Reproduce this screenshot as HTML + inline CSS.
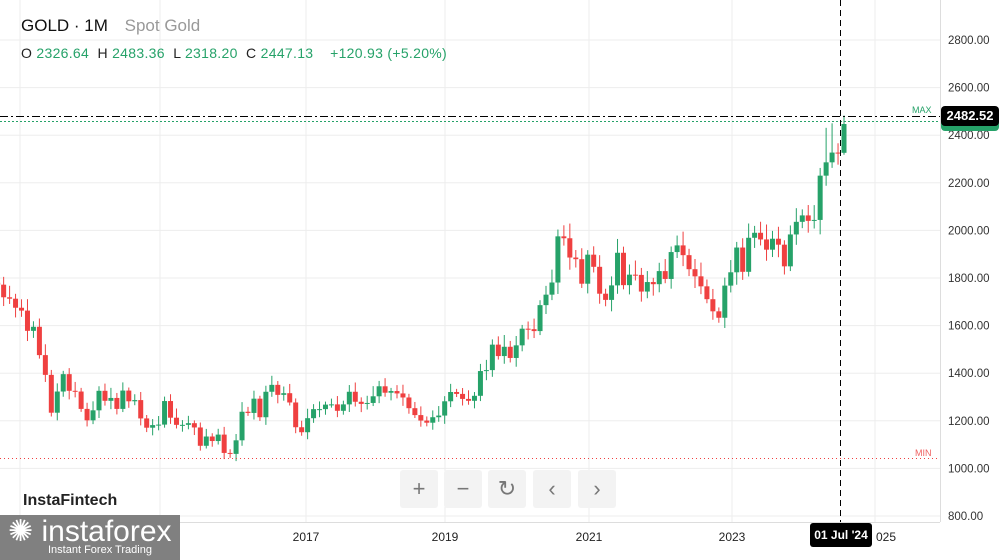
<!DOCTYPE html>
<html><head><meta charset="utf-8"><style>
body{margin:0;width:1006px;height:560px;overflow:hidden;background:#fff;font-family:"Liberation Sans",sans-serif;position:relative}
.t{position:absolute;white-space:nowrap}
.btn{position:absolute;top:470px;width:38px;height:38px;background:#f3f3f3;border-radius:3px;color:#777;font-size:22px;text-align:center;line-height:38px}
</style></head><body>
<svg id="s" width="1006" height="560" style="position:absolute;left:0;top:0"></svg>
<div class="t" style="left:21px;top:16px;font-size:17px;color:#111">GOLD · 1M <span style="color:#999;margin-left:12px">Spot Gold</span></div>
<div class="t" style="left:21px;top:45px;font-size:14px;color:#26a269;letter-spacing:0.3px"><span style="color:#222">O</span> 2326.64 &nbsp;<span style="color:#222">H</span> 2483.36 &nbsp;<span style="color:#222">L</span> 2318.20 &nbsp;<span style="color:#222">C</span> 2447.13 &nbsp;&nbsp; +120.93 (+5.20%)</div>
<div class="btn" style="left:400px">+</div><div class="btn" style="left:444px">−</div><div class="btn" style="left:488px">↻</div><div class="btn" style="left:533px">‹</div><div class="btn" style="left:578px">›</div>
<div class="t" style="left:23px;top:492px;font-size:16px;font-weight:bold;color:#222">InstaFintech</div>
<div style="position:absolute;left:0;top:515px;width:180px;height:45px;background:#808080"></div>
<div class="t" style="left:8px;top:514px;font-size:30px;color:#fff">✺ instaforex</div>
<div class="t" style="left:48px;top:544px;font-size:11px;color:#fff">Instant Forex Trading</div>
<div style="position:absolute;left:941px;top:107px;width:58px;height:24px;background:#26a269;border-radius:4px"></div>
<div class="t" style="left:941px;top:106px;width:58px;height:20px;background:#000;color:#fff;border-radius:4px;font-size:13px;font-weight:bold;text-align:center;line-height:20px">2482.52</div>
<div class="t" style="left:810px;top:523px;width:62px;height:24px;background:#000;color:#fff;border-radius:3px;font-size:12px;font-weight:bold;text-align:center;line-height:24px">01 Jul '24</div>
<script>
var c=[1772,1719,1713,1675,1663,1578,1595,1476,1393,1234,1323,1396,1326,1323,1250,1202,1244,1326,1284,1296,1250,1327,1282,1287,1210,1171,1182,1184,1283,1213,1183,1183,1190,1172,1095,1134,1115,1142,1065,1061,1118,1238,1233,1293,1215,1322,1351,1309,1316,1277,1173,1152,1211,1249,1249,1268,1269,1242,1269,1322,1280,1271,1275,1303,1345,1318,1325,1315,1298,1253,1224,1201,1192,1215,1222,1282,1321,1313,1292,1284,1305,1409,1413,1520,1472,1511,1464,1517,1587,1585,1577,1686,1730,1781,1975,1967,1886,1879,1776,1898,1847,1734,1708,1769,1906,1770,1814,1813,1743,1783,1774,1829,1796,1909,1937,1896,1837,1807,1765,1711,1660,1633,1768,1824,1928,1826,1969,1990,1962,1919,1965,1940,1849,1983,2036,2063,2040,2044,2230,2286,2327,2326,2447];
function Y(p){return 516-(p-800)*0.238}
var h='';
for(var p=800;p<=2800;p+=200){var y=Y(p);h+='<line x1="0" x2="940" y1="'+y+'" y2="'+y+'" stroke="#ededed"/><text x="948" y="'+(y+4)+'" font-size="11.5" fill="#333" font-family="Liberation Sans">'+p+'.00</text>';}
var yrs=[[2013,20],[2015,160],[2017,306],[2019,445],[2021,589],[2023,732],[2025,875]];
yrs.forEach(function(a){h+='<line x1="'+a[1]+'" x2="'+a[1]+'" y1="0" y2="522" stroke="#ededed"/>';if(a[0]>=2017&&a[0]<2025)h+='<text x="'+a[1]+'" y="541" font-size="12" fill="#222" text-anchor="middle" font-family="Liberation Sans">'+a[0]+'</text>';});
h+='<text x="876" y="541" font-size="12" fill="#222" font-family="Liberation Sans">025</text>';
h+='<line x1="940.5" x2="940.5" y1="0" y2="522" stroke="#ddd"/><line x1="0" x2="940" y1="522.5" y2="522.5" stroke="#ddd"/>';
var n=c.length;var x0=844-(n-1)*5.96;
for(var i=0;i<n;i++){var o=i?c[i-1]:1780,cl=c[i];var s=((i*37)%11)/11;var hi=Math.max(o,cl)+cl*(0.01+0.025*s),lo=Math.min(o,cl)-cl*(0.01+0.02*((i*53)%7)/7);
if(i==n-1){hi=2483;lo=2318;}
if(i==n-4){hi=2431;}
if(i==n-3){hi=2450;}
var col=cl>=o?'#26a269':'#ef4040';var x=x0+i*5.96;
h+='<line x1="'+x+'" x2="'+x+'" y1="'+Y(hi)+'" y2="'+Y(lo)+'" stroke="'+col+'"/>';
var t=Y(Math.max(o,cl)),b=Y(Math.min(o,cl));h+='<rect x="'+(x-2.5)+'" y="'+t+'" width="5" height="'+Math.max(1,b-t)+'" fill="'+col+'"/>';}
h+='<line x1="0" x2="940" y1="116.5" y2="116.5" stroke="#000" stroke-dasharray="8,3,2,3"/>';
h+='<line x1="0" x2="940" y1="121.5" y2="121.5" stroke="#26a269" stroke-dasharray="2,2"/>';
h+='<text x="912" y="113" font-size="9" fill="#26a269" font-family="Liberation Sans">MAX</text>';
h+='<line x1="0" x2="940" y1="458.5" y2="458.5" stroke="#ef4040" stroke-dasharray="1,3"/>';
h+='<text x="915" y="456" font-size="9" fill="#ef6060" font-family="Liberation Sans">MIN</text>';
h+='<line x1="840.5" x2="840.5" y1="0" y2="522" stroke="#000" stroke-dasharray="6,4"/>';
document.getElementById('s').innerHTML=h;
</script>
</body></html>
